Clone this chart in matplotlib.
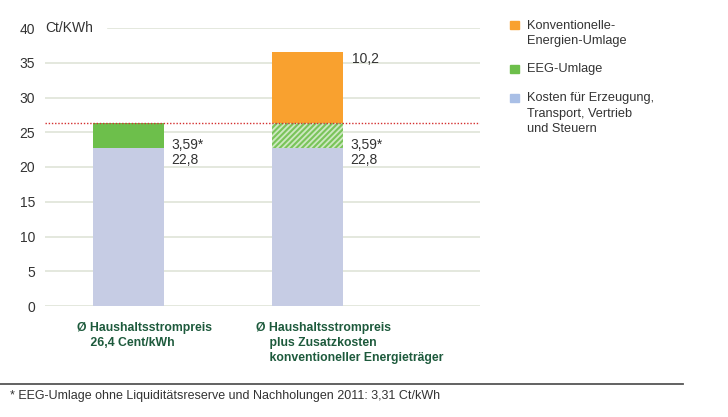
import matplotlib.pyplot as plt

plt.rcParams['font.family'] = ['Liberation Sans', 'DejaVu Sans']
plt.rcParams['hatch.linewidth'] = 1.5

# data
kosten = [22.8, 22.8]
eeg = [3.59, 3.59]
konv = [0.0, 10.2]
strompreis = 26.4
yticks = [0, 5, 10, 15, 20, 25, 30, 35, 40]
cat_labels = ['Ø Haushaltsstrompreis\n    26,4 Cent/kWh',
              'Ø Haushaltsstrompreis\n    plus Zusatzkosten\n    konventioneller Energieträger']
legend_labels = ['Konventionelle-\nEnergien-Umlage', 'EEG-Umlage',
                 'Kosten für Erzeugung,\nTransport, Vertrieb\nund Steuern']

c_blue = '#c6cce4'
c_green = '#6dbf4b'
c_orange = '#f9a12f'
c_grid = '#dfe4d8'
c_text = '#333333'
c_cat = '#1d5a3c'

W, H = 728, 417
fig = plt.figure(figsize=(W / 100, H / 100), dpi=100)
ax = fig.add_axes([45 / W, (H - 306) / H, (480 - 45) / W, (306 - 28) / H])

x = [0, 1]
bw = 0.397

# gridlines
for t in yticks[:-1]:
    ax.axhline(t, color=c_grid, lw=1.2, zorder=0)
ax.axhline(40, xmin=(108 - 45) / (480 - 45), color=c_grid, lw=1.2, zorder=0)

ax.bar(x, kosten, bw, color=c_blue, zorder=2)
ax.bar(x[0], eeg[0], bw, bottom=kosten[0], color=c_green, zorder=2)
ax.bar(x[1], eeg[1], bw, bottom=kosten[1], facecolor='#cde8c1',
       edgecolor='#79c45a', hatch='//////', lw=0, zorder=2)
ax.bar(x[1], konv[1], bw, bottom=kosten[1] + eeg[1], color=c_orange, zorder=2)

ax.axhline(strompreis, color='#d42f2f', lw=1.0, ls=(0, (1, 1.3)), zorder=3)

# value labels
for i in x:
    ax.text(i + bw / 2 + 0.04, kosten[i] - 0.6, '3,59*', fontsize=10,
            color=c_text, va='bottom')
    ax.text(i + bw / 2 + 0.04, kosten[i] - 0.75, '22,8', fontsize=10,
            color=c_text, va='top')
ax.text(x[1] + bw / 2 + 0.05, kosten[1] + eeg[1] + konv[1], '10,2',
        fontsize=10, color=c_text, va='top')

ax.text(0.0, 40, 'Ct/KWh', fontsize=10, color=c_text, va='center',
        transform=ax.get_yaxis_transform())

ax.set_xlim(-0.466, 1.964)
ax.set_ylim(0, 40)
ax.set_yticks(yticks)
ax.set_xticks([])
ax.tick_params(axis='y', length=0, pad=7, labelsize=10, labelcolor=c_text)
for s in ax.spines.values():
    s.set_visible(False)

# category labels
for i, lab in enumerate(cat_labels):
    ax.text(i - 0.29, -2.3, lab, fontsize=8.8, color=c_cat, fontweight='bold',
            va='top', ha='left', linespacing=1.35)

# legend
leg = [(c_orange, 24.5, 33.5, legend_labels[0]),
       (c_green, 68.5, 69, legend_labels[1]),
       ('#a9bfe6', 97.5, 113.5, legend_labels[2])]
for col, ysq, ytx, lab in leg:
    fig.patches.append(plt.Rectangle((510 / W, 1 - (ysq + 4) / H), 9 / W, 8 / H,
                                     color=col, transform=fig.transFigure))
    fig.text(527 / W, 1 - ytx / H, lab, fontsize=9.2, color=c_text,
             va='center', linespacing=1.42)

# footer
fig.add_artist(plt.Line2D([0, 683 / W], [1 - 384 / H] * 2, color='#555555',
                          lw=1.3, transform=fig.transFigure))
fig.text(10 / W, 1 - 396 / H, '* EEG-Umlage ohne Liquiditätsreserve und Nachholungen 2011: 3,31 Ct/kWh',
         fontsize=9, color=c_text, va='center')

fig.savefig('out.png', dpi=100)
